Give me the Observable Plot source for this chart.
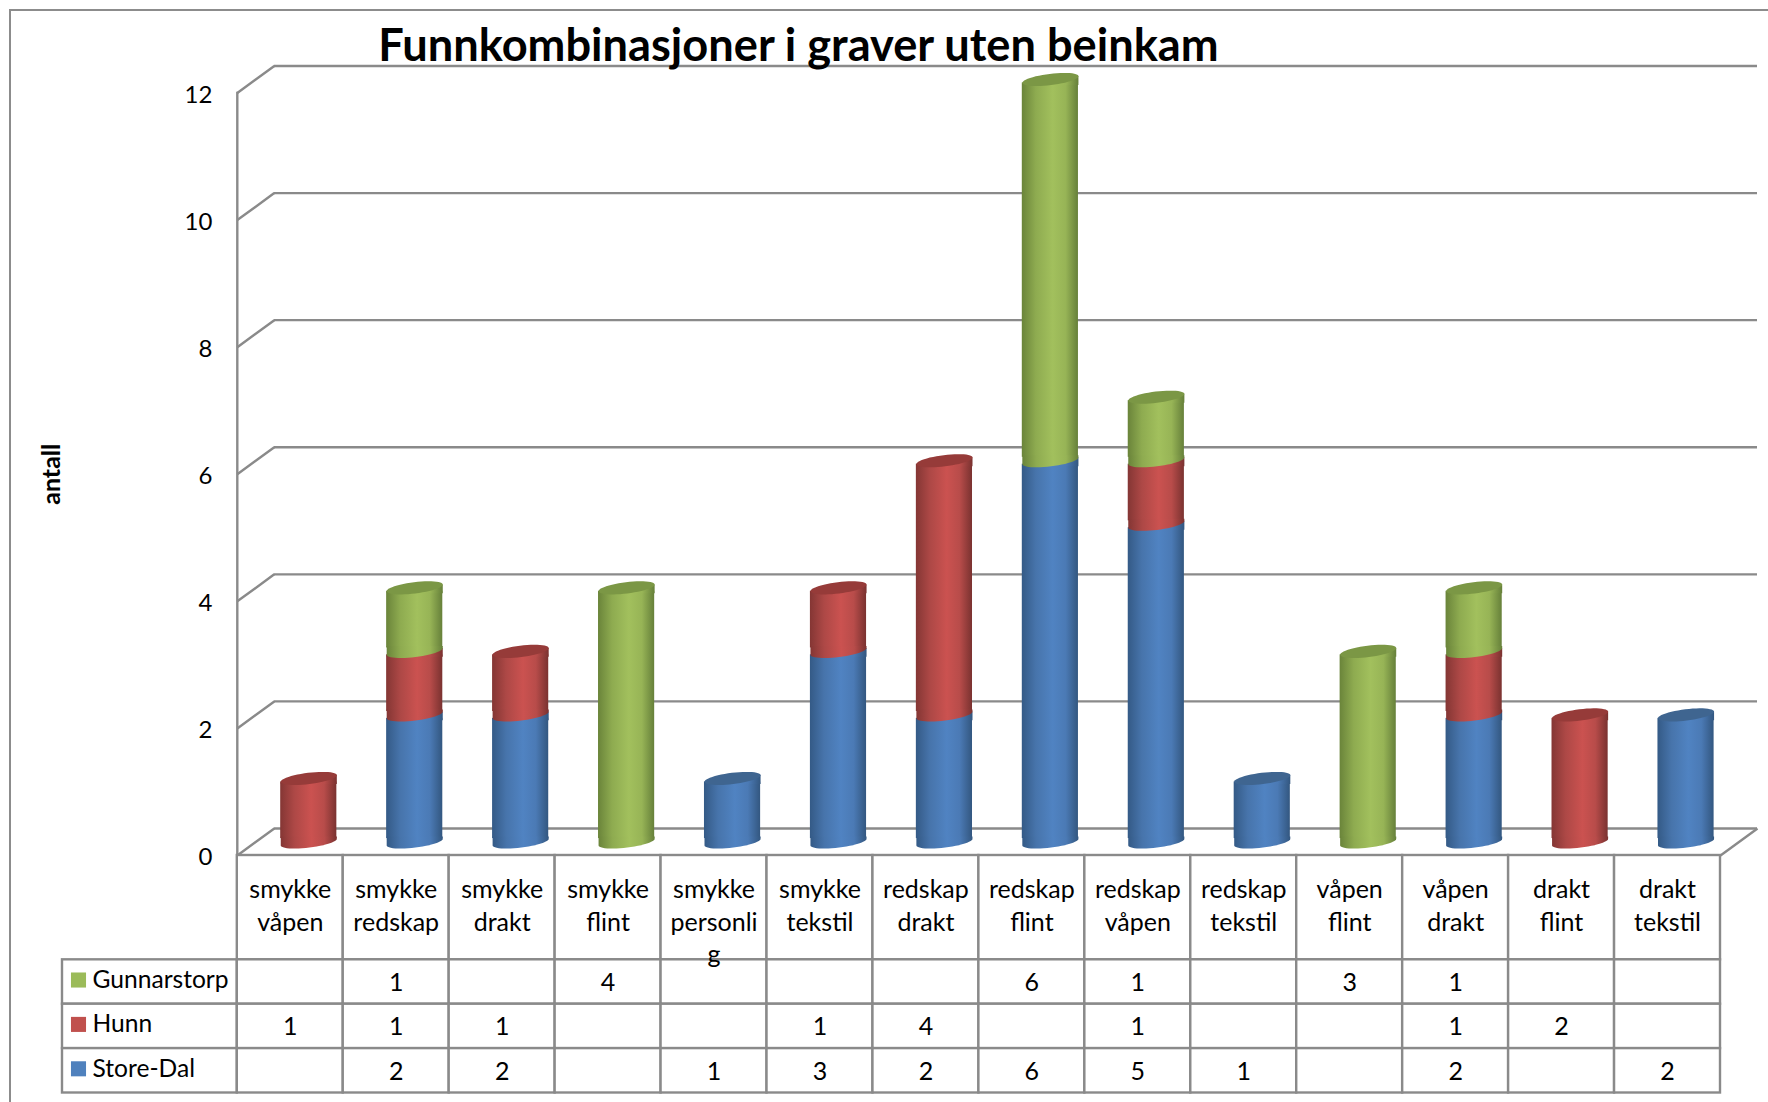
<!DOCTYPE html>
<html>
<head>
<meta charset="utf-8">
<script src="https://cdn.jsdelivr.net/npm/d3@7"></script>
<script src="https://cdn.jsdelivr.net/npm/@observablehq/plot@0.6"></script>
<style>
html,body{margin:0;padding:0;background:#fff;overflow:hidden;width:1768px;height:1102px}
#page{position:relative;width:1768px;height:1102px;overflow:hidden}
#border{position:absolute;left:9px;top:9px;width:1800px;height:1150px;border:2px solid #8c8c8c;box-sizing:border-box}
#chart,#table{position:absolute;left:0}
#chart{top:0}
#table{top:855px}
svg{display:block;background:transparent}
</style>
</head>
<body>
<div id="page"><div id="border"></div><div id="chart"></div><div id="table"></div></div>
<script>
const title = "Funnkombinasjoner i graver uten beinkam";
const yLabel = "antall";
const categories = ["smykke\nvåpen","smykke\nredskap","smykke\ndrakt","smykke\nflint","smykke\npersonli\ng","smykke\ntekstil","redskap\ndrakt","redskap\nflint","redskap\nvåpen","redskap\ntekstil","våpen\nflint","våpen\ndrakt","drakt\nflint","drakt\ntekstil"];
const storeDal    = [null,2,2,null,1,3,2,6,5,1,null,2,null,2];
const hunn        = [1,1,1,null,null,1,4,null,1,null,null,1,2,null];
const gunnarstorp = [null,1,null,4,null,null,null,6,1,null,3,1,null,null];
const yTicks = [0,2,4,6,8,10,12];
const seriesNames = ["Gunnarstorp","Hunn","Store-Dal"];
const legendColors = ["#9bbb59","#c0504d","#4f81bd"];

const FONT = "Lato, Carlito, Calibri, sans-serif";
const GRID = "#8a8a8a";
const GRID_W = 2.4;
const W = 1768, AXIS_BOTTOM = 855;
const marginLeft = 236.8, marginRight = 48, marginTop = 92.5;
const padding = 0.47;
const barDx = 18.5, barDy = -13.5;
const wallDx = 37, wallDy = -27;
const barR = 28.26;
const TILT = -7 * Math.PI / 180;
const TILT_Y = barR * Math.abs(Math.sin(TILT));
const OVERLAP = 2;

// Stack the three series in drawing order, bottom to top.
const stackSeries = [
  {key:"blue", values:storeDal, top:"#3f6590"},
  {key:"red", values:hunn, top:"#963b39"},
  {key:"green", values:gunnarstorp, top:"#7b9745"}
];
const base = categories.map(() => 0);
const stacked = stackSeries.map(s => ({
  ...s,
  rows: categories.flatMap((c,i) => {
    const v = s.values[i];
    if (v == null) return [];
    const row = {c, y1: base[i], y2: base[i] + v, i};
    base[i] += v;
    return [row];
  })
}));
const tops = stacked.flatMap(s => s.rows.filter(r => r.y2 === base[r.i]).map(r => ({...r, key:s.key})));

// Points on the tilted ellipse that caps a cylinder.
function ellipsePoint(a, u) {
  const b = a * 0.2;
  const ex = a * Math.cos(u), ey = b * Math.sin(u);
  return [ex * Math.cos(TILT) - ey * Math.sin(TILT), ex * Math.sin(TILT) + ey * Math.cos(TILT)];
}
const n = 48;
const capSymbol = {
  draw(ctx, size) {
    const a = Math.sqrt(size / Math.PI);
    for (let k = 0; k < n; k++) {
      const [px, py] = ellipsePoint(a, 2 * Math.PI * k / n);
      if (k) ctx.lineTo(px, py); else ctx.moveTo(px, py);
    }
    ctx.closePath();
  }
};
// Lower rim of a segment: the arc below the tilted axis, filled up into the body.
const lowerRim = {
  draw(ctx, size) {
    const a = Math.sqrt(size / Math.PI);
    const [rx, ry] = ellipsePoint(a, 0);
    ctx.moveTo(rx, ry - OVERLAP);
    for (let k = 0; k <= n / 2; k++) {
      const [px, py] = ellipsePoint(a, Math.PI * k / (n / 2));
      ctx.lineTo(px, py);
    }
    ctx.lineTo(-rx, ry - OVERLAP);
    ctx.closePath();
  }
};
// Upper wedge of a segment: fills between the tilted axis and the flat body top.
const upperWedge = {
  draw(ctx, size) {
    const a = Math.sqrt(size / Math.PI);
    const [rx, ry] = ellipsePoint(a, 0);
    ctx.moveTo(-rx, -ry + OVERLAP);
    ctx.lineTo(-rx, -ry);
    ctx.lineTo(rx, ry);
    ctx.lineTo(rx, -ry + OVERLAP);
    ctx.closePath();
  }
};
const wallDiagonal = {
  draw(ctx) { ctx.moveTo(0, 0); ctx.lineTo(wallDx, wallDy); ctx.closePath(); }
};

function gradients() {
  const defs = d3.create("svg:defs");
  const stops = {
    blue:  ["#345a86","#4774ab","#5083c2","#4b7ab5","#335780"],
    red:   ["#843634","#ad4846","#cb5250","#b84c4a","#7a3230"],
    green: ["#6a843a","#8eab50","#a2c05d","#97b456","#66803a"]
  };
  const at = [0, 0.25, 0.55, 0.78, 1];
  for (const k of Object.keys(stops)) {
    const g = defs.append("linearGradient").attr("id", "cyl-" + k).attr("x1", 0).attr("x2", 1).attr("y1", 0).attr("y2", 0);
    stops[k].forEach((c, i) => g.append("stop").attr("offset", at[i]).attr("stop-color", c));
  }
  return defs.node();
}

const chart = Plot.plot({
  width: W, height: AXIS_BOTTOM + 12,
  marginLeft, marginRight, marginTop, marginBottom: 12,
  style: {fontFamily: FONT, background: "transparent", overflow: "visible"},
  x: {type: "band", domain: categories, paddingInner: padding, paddingOuter: padding / 2, align: 0.5, round: false, axis: null},
  y: {domain: [0, 12], axis: null},
  marks: [
    gradients,
    // back wall
    Plot.ruleY(yTicks, {stroke: GRID, strokeWidth: GRID_W, dx: wallDx, dy: wallDy}),
    Plot.dot(yTicks, {y: d => d, frameAnchor: "left", symbol: wallDiagonal, stroke: GRID, strokeWidth: GRID_W, r: 1}),
    Plot.dot([0], {y: d => d, frameAnchor: "right", symbol: wallDiagonal, stroke: GRID, strokeWidth: GRID_W, r: 1}),
    Plot.ruleY([0], {stroke: GRID, strokeWidth: GRID_W}),
    Plot.frame({anchor: "left", stroke: GRID, strokeWidth: GRID_W}),
    Plot.text([title], {frameAnchor: "top", lineAnchor: "middle", dx: -180.5, dy: -46, fontSize: 45.2, fontWeight: 700, fill: "black"}),
    Plot.text([yLabel], {frameAnchor: "left", textAnchor: "middle", rotate: -90, dx: -185, fontSize: 25, fontWeight: 700, fill: "black"}),
    Plot.axisY(yTicks, {anchor: "left", tickSize: 0, tickPadding: 25, fontSize: 24, fill: "black", label: null, dy: 2, tickFormat: d => d}),
    // cylinders
    ...stacked.flatMap(s => {
      const fill = `url(#cyl-${s.key})`;
      return [
        Plot.barY(s.rows, {x: "c", y1: "y1", y2: "y2", fill, dx: barDx, dy: barDy, insetTop: TILT_Y, insetBottom: TILT_Y}),
        Plot.dot(s.rows, {x: "c", y: "y2", symbol: upperWedge, r: barR, fill, dx: barDx, dy: barDy}),
        Plot.dot(s.rows, {x: "c", y: "y1", symbol: lowerRim, r: barR, fill, dx: barDx, dy: barDy})
      ];
    }),
    ...stacked.map(s => Plot.dot(tops.filter(t => t.key === s.key), {x: "c", y: "y2", symbol: capSymbol, r: barR, fill: s.top, dx: barDx, dy: barDy}))
  ]
});
document.getElementById("chart").append(chart);

// Data table below the chart, in column and row units.
const tableLeft = 62, tableBottom = 1092.5;
const colWidth = (W - marginRight - marginLeft) / categories.length;
const labelCols = (marginLeft - tableLeft) / colWidth;
const headerRows = 2.35;
const rowValues = [gunnarstorp, hunn, storeDal];
const colIdx = categories.map((c, i) => i);
const rowCells = seriesNames.flatMap((name, r) => [-1, ...colIdx].map(i => ({
  x1: i < 0 ? -labelCols : i, x2: i < 0 ? 0 : i + 1, y1: headerRows + r, y2: headerRows + r + 1,
  name, value: i < 0 ? null : rowValues[r][i]
})));
const table = Plot.plot({
  width: W, height: 1102 - AXIS_BOTTOM,
  marginLeft: tableLeft, marginRight, marginTop: 0, marginBottom: 1102 - tableBottom,
  style: {fontFamily: FONT, background: "transparent", overflow: "visible"},
  x: {domain: [-labelCols, categories.length], axis: null},
  y: {domain: [0, headerRows + 3], range: [0, tableBottom - AXIS_BOTTOM], axis: null},
  marks: [
    Plot.rect(colIdx, {x1: d => d, x2: d => d + 1, y1: 0, y2: headerRows, fill: "white", stroke: GRID, strokeWidth: GRID_W}),
    Plot.rect(rowCells, {x1: "x1", x2: "x2", y1: "y1", y2: "y2", fill: "white", stroke: GRID, strokeWidth: GRID_W}),
    Plot.text(colIdx, {x: d => d + 0.5, y: 0, text: d => categories[d], lineAnchor: "top", dy: 19, fontSize: 25, lineHeight: 1.31, fill: "black"}),
    Plot.text(rowCells.filter(d => d.value != null), {x: d => d.x1 + 0.5, y: d => d.y1 + 0.5, text: "value", dy: 1, fontSize: 25, fill: "black"}),
    Plot.text(seriesNames, {x: -labelCols, y: (d, i) => headerRows + i + 0.5, text: d => d, textAnchor: "start", dx: 30, dy: -2, fontSize: 24.6, fill: "black"}),
    Plot.dot(seriesNames, {x: -labelCols, y: (d, i) => headerRows + i + 0.5, symbol: "square", r: 8.5, dx: 16, dy: -2, fill: (d, i) => legendColors[i], stroke: "none"})
  ]
});
document.getElementById("table").append(table);
</script>
</body>
</html>
